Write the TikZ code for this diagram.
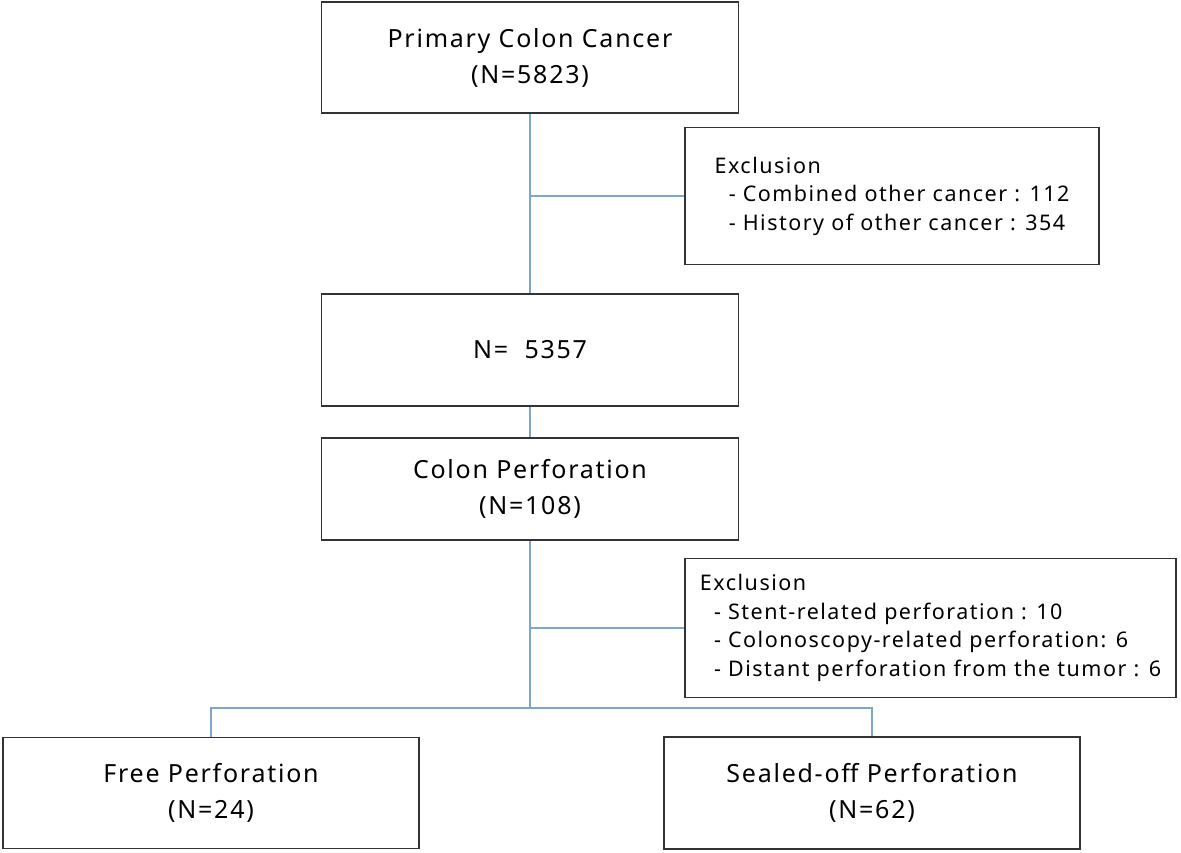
\documentclass[tikz,border=0pt]{standalone}
\usepackage{fontspec}
\setmainfont{Noto Sans}[LetterSpace=7]
\usepackage{xcolor}
\usetikzlibrary{positioning}
\definecolor{linkblue}{RGB}{125,165,205}
\tikzset{
  mainbox/.style={draw=black!80, line width=1.5pt, minimum width=417pt, align=center,
    font=\fontsize{25}{36}\selectfont},
  exclbox/.style={draw=black!80, line width=1.5pt, align=left,
    font=\fontsize{21.5}{28.5}\selectfont},
  link/.style={draw=linkblue, line width=1.5pt}
}
\begin{document}
\begin{tikzpicture}[x=1pt,y=-1pt]
        \useasboundingbox (0,0) rectangle (1181,853);

        \node[mainbox, minimum height=111pt] (primary) at (530,57.5) {Primary Colon Cancer\\(N=5823)};
        \node[exclbox, minimum width=414pt, minimum height=137pt] (excl1) at (892,196)
            {Exclusion\\\ \ - Combined other cancer : 112\\\ \ - History of other cancer : 354};
        \node[mainbox, minimum height=112pt] (total) at (530,350) {N=\ \ 5357};
        \node[mainbox, minimum height=102pt] (perf) at (530,489) {Colon Perforation\\(N=108)};
        \node[exclbox, minimum width=491pt, minimum height=139pt] (excl2) at (930.5,628)
            {Exclusion\\\ \ - Stent-related perforation : 10\\\ \ - Colonoscopy-related perforation: 6\\\ \ - Distant perforation from the tumor : 6};
        \node[mainbox, minimum width=416pt, minimum height=111pt] (free) at (211,793) {Free Perforation\\(N=24)};
        \node[mainbox, minimum width=416pt, minimum height=112pt] (sealed) at (872,793) {Sealed-off Perforation\\(N=62)};

        \coordinate (j1) at (530,196);
        \coordinate (j2) at (530,628);
        \coordinate (split) at (530,708);

        \draw[link] (primary) -- (total);
        \draw[link] (j1) -- (excl1);
        \draw[link] (total) -- (perf);
        \draw[link] (perf) -- (split);
        \draw[link] (j2) -- (excl2);
        \draw[link] (free.north) |- (split) -| (sealed.north);
    \end{tikzpicture}
\end{document}
